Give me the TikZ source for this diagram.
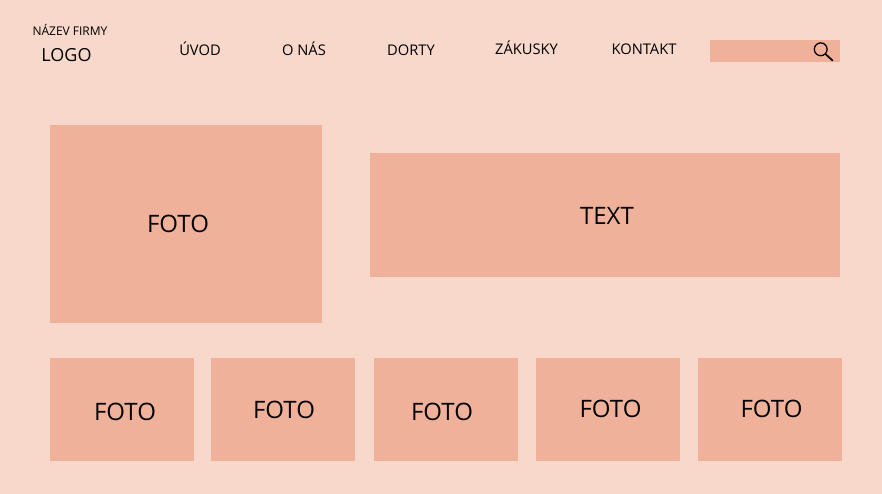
\documentclass[tikz,border=0pt]{standalone}
\usepackage{fontspec}
\setmainfont{Open Sans}
\definecolor{pagebg}{HTML}{F7D8CA}
\definecolor{boxfill}{HTML}{F0B19A}
\tikzset{
  box/.style={fill=boxfill,draw=none},
  menulabel/.style={anchor=base,inner sep=0pt,font=\fontsize{14.7}{16}\selectfont,text=black},
  fotolabel/.style={anchor=base,inner sep=0pt,font=\fontsize{24}{28}\selectfont,text=black}
}
\begin{document}
\begin{tikzpicture}[x=1pt,y=1pt]

\fill[pagebg] (0,0) rectangle (882,-494);
\useasboundingbox (0,0) rectangle (882,-494);

\fill[box] (710,-40) rectangle (840,-62);
\fill[box] (50,-125) rectangle (322,-323);
\fill[box] (370,-153) rectangle (840,-277);
\fill[box] (50,-358) rectangle (194.3,-461);
\fill[box] (211,-358) rectangle (355.3,-461);
\fill[box] (374,-358) rectangle (518.3,-461);
\fill[box] (536,-358) rectangle (680.3,-461);
\fill[box] (698,-358) rectangle (842.3,-461);

\node[menulabel,font=\fontsize{12}{14}\selectfont] (firma) at (70,-36) {NÁZEV FIRMY};
\node[menulabel,font=\fontsize{18}{20}\selectfont] (logo) at (66.5,-62) {LOGO};
\node[menulabel] (uvod) at (200,-56) {ÚVOD};
\node[menulabel] (onas) at (304,-56) {O NÁS};
\node[menulabel] (dorty) at (411,-56) {DORTY};
\node[menulabel] (zakusky) at (526.5,-55) {ZÁKUSKY};
\node[menulabel] (kontakt) at (644,-55) {KONTAKT};

\draw[black,line width=1.3pt] (820.7,-49.3) circle (6.4);
\draw[black,line width=1.7pt] (825.3,-53.9) -- (832.8,-60.8);

\node[fotolabel] (fotomain) at (178,-232) {FOTO};
\node[fotolabel] (textmain) at (607,-224) {TEXT};
\node[fotolabel] (fotoa) at (125,-420) {FOTO};
\node[fotolabel] (fotob) at (284,-418) {FOTO};
\node[fotolabel] (fotoc) at (442,-420) {FOTO};
\node[fotolabel] (fotod) at (610.5,-417) {FOTO};
\node[fotolabel] (fotoe) at (771.5,-417) {FOTO};
\end{tikzpicture}
\end{document}
